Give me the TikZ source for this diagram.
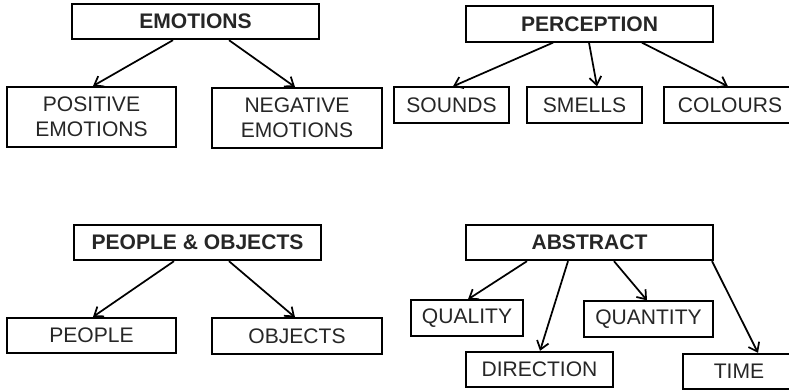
\documentclass[tikz,border=0pt]{standalone}
\usepackage{fontspec}
\setmainfont{Liberation Sans}
\usetikzlibrary{arrows.meta, calc}

\begin{document}
\begin{tikzpicture}[
        x=0.75pt,y=-0.75pt,
        every node/.style={font=\fontsize{15.8}{18.5}\selectfont,align=center,text=black!85},
        head/.style={draw,line width=1.5pt,minimum width=185.25pt,minimum height=26.5pt,font=\fontsize{15.8}{18.5}\selectfont\bfseries},
        leaf/.style={draw,line width=1.5pt,minimum height=26.5pt},
        link/.style={-{Straight Barb[length=6pt,width=9pt]},line width=1.3pt}]
        \useasboundingbox (0,0) rectangle (789,390);
        % upper left: emotions
        \node[head] (emo) at (195.5,21.5) {EMOTIONS};
        \node[leaf,minimum width=126.75pt,minimum height=45pt] (pos) at (91.5,117) {POSITIVE\\EMOTIONS};
        \node[leaf,minimum width=127.5pt,minimum height=45pt] (neg) at (297,118) {NEGATIVE\\EMOTIONS};
        \draw[link] ($(emo.south)+(-22.5,0)$) -- ($(pos.north)+(1.5,0)$);
        \draw[link] ($(emo.south)+(33.5,0)$) -- ($(neg.north)+(-2,0)$);
        % upper right: perception
        \node[head] (perc) at (589.5,24) {PERCEPTION};
        \node[leaf,minimum width=86.25pt] (snd) at (451.5,105) {SOUNDS};
        \node[leaf,minimum width=86.25pt] (sml) at (584.5,105) {SMELLS};
        \node[leaf,minimum width=99pt] (col) at (730,105) {COLOURS};
        \draw[link] ($(perc.south)+(-36.5,0)$) -- ($(snd.north)+(1.5,0)$);
        \draw[link] ($(perc.south)+(-0.5,0)$) -- ($(sml.north)+(12.5,0)$);
        \draw[link] ($(perc.south)+(52.5,0)$) -- ($(col.north)+(-2,0)$);
        % lower left: people and objects
        \node[head] (pob) at (197.5,242.5) {PEOPLE \& OBJECTS};
        \node[leaf,minimum width=126.75pt] (ppl) at (91.5,335.5) {PEOPLE};
        \node[leaf,minimum width=127.5pt] (obj) at (297,336) {OBJECTS};
        \draw[link] ($(pob.south)+(-23.5,0)$) -- ($(ppl.north)+(1.5,0)$);
        \draw[link] ($(pob.south)+(31.5,0)$) -- ($(obj.north)+(-2,0)$);
        % lower right: abstract
        \node[head] (abs) at (589.5,242.5) {ABSTRACT};
        \node[leaf,minimum width=84pt] (qual) at (467,318) {QUALITY};
        \node[leaf,minimum width=96.75pt] (quan) at (648.5,319) {QUANTITY};
        \node[leaf,minimum width=110.25pt] (dir) at (539.5,369.5) {DIRECTION};
        \node[leaf,minimum width=84pt] (time) at (739,371.5) {TIME};
        \draw[link] ($(abs.south)+(-62.5,0)$) -- ($(qual.north)+(1,0)$);
        \draw[link] ($(abs.south)+(-21.5,0)$) -- ($(dir.north)+(0.5,0)$);
        \draw[link] ($(abs.south)+(24.5,0)$) -- ($(quan.north)+(-1.5,0)$);
        \draw[link] ($(abs.south)+(122.5,0)$) -- ($(time.north)+(19,0)$);
      \end{tikzpicture}
\end{document}
